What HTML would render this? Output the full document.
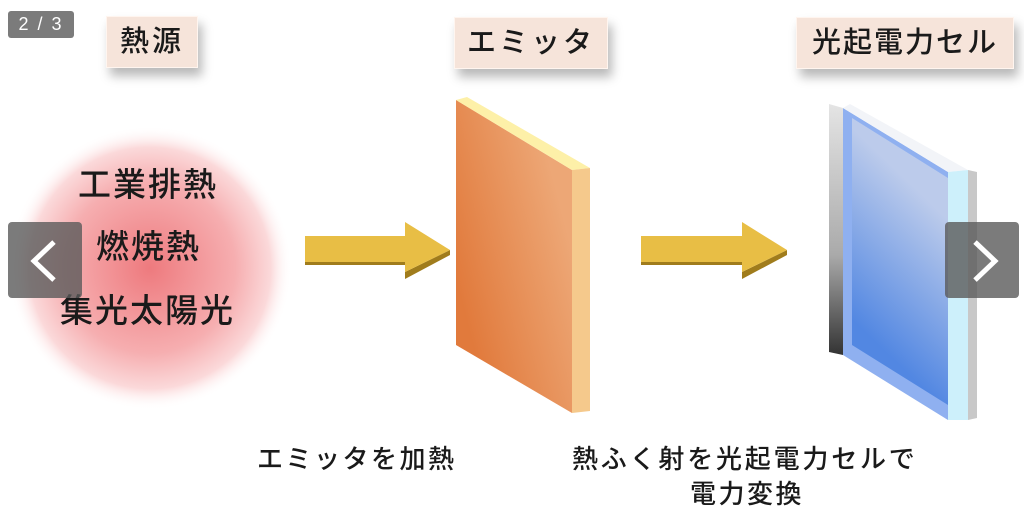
<!DOCTYPE html>
<html><head><meta charset="utf-8"><style>
html,body{margin:0;padding:0;background:#fff;}
body{width:1024px;height:514px;position:relative;overflow:hidden;font-family:"Liberation Sans","Noto Sans CJK JP",sans-serif;color:#1a1a1a;font-weight:500;}
.t{position:absolute;white-space:nowrap;}
.lbl{position:absolute;background:#f6e4da;box-shadow:4px 8px 10px rgba(0,0,0,0.28);border:1px solid #fff5ef;font-size:29px;line-height:50px;text-align:center;letter-spacing:3px;}
.nav{position:absolute;width:74px;height:76px;background:rgba(90,90,90,0.8);border-radius:4px;}
</style></head><body>
<svg width="1024" height="514" style="position:absolute;left:0;top:0">
<defs>
<radialGradient id="rg" cx="150" cy="268" r="142" gradientUnits="userSpaceOnUse">
<stop offset="0" stop-color="#ee7a7e"/><stop offset="0.6" stop-color="#f6aeb0"/><stop offset="0.85" stop-color="#fbd9da"/><stop offset="1" stop-color="#fff" stop-opacity="0"/>
</radialGradient>
<linearGradient id="og" x1="456" y1="280" x2="572" y2="250" gradientUnits="userSpaceOnUse">
<stop offset="0" stop-color="#e17a3c"/><stop offset="1" stop-color="#eda776"/></linearGradient>
<linearGradient id="bg" x1="852" y1="320" x2="948" y2="220" gradientUnits="userSpaceOnUse">
<stop offset="0" stop-color="#5287e2"/><stop offset="1" stop-color="#bccbeb"/></linearGradient>
<linearGradient id="gg" x1="0" y1="105" x2="0" y2="355" gradientUnits="userSpaceOnUse">
<stop offset="0" stop-color="#e4e4e4"/><stop offset="0.6" stop-color="#aaa"/><stop offset="1" stop-color="#333"/></linearGradient>
</defs>
<circle cx="150" cy="268" r="142" fill="url(#rg)"/>
<g>
<polygon points="305,252 405,252 405,272 450,250 450,255 405,279 405,265 305,265" fill="#a07c1c"/>
<polygon points="305,236 405,236 405,222 450,250 405,272 405,262 305,262" fill="#e8be45"/>
<polygon points="641,252 742,252 742,272 787,250 787,255 742,279 742,265 641,265" fill="#a07c1c"/>
<polygon points="641,236 742,236 742,222 787,250 742,272 742,262 641,262" fill="#e8be45"/>
</g>
<polygon points="456,100 572,170 572,413 456,345" fill="url(#og)"/>
<polygon points="456,100 467,97 590,168 572,170" fill="#fdf0a8"/>
<polygon points="572,170 590,168 590,411 572,413" fill="#f5c98c"/>
<polygon points="829,104 843,108 843,355 829,352" fill="url(#gg)"/>
<polygon points="843,108 948,172 948,420 843,355" fill="#8fb0f0"/>
<polygon points="852,118 948,178 948,405 852,345" fill="url(#bg)"/>
<polygon points="843,108 850,104 968,170 948,172" fill="#f2f4f8"/>
<polygon points="948,172 968,170 968,420 948,420" fill="#cdf0fb"/>
<polygon points="968,170 977,172 977,418 968,420" fill="#c8c8c8"/>
</svg>
<div class="t" style="left:8px;top:11px;width:66px;height:27px;background:#7b7b7b;border-radius:3px;color:#fff;font-size:18px;line-height:27px;text-align:center;letter-spacing:2px;font-weight:400;">2 / 3</div>
<div class="lbl" style="left:106px;top:16px;width:90px;">熱源</div>
<div class="lbl" style="left:454px;top:17px;width:152px;">エミッタ</div>
<div class="lbl" style="left:796px;top:17px;width:216px;letter-spacing:2px;">光起電力セル</div>
<div class="t" style="left:78px;top:158px;font-size:33px;letter-spacing:2px;">工業排熱</div>
<div class="t" style="left:96px;top:220px;font-size:33px;letter-spacing:2px;">燃焼熱</div>
<div class="t" style="left:60px;top:284px;font-size:33px;letter-spacing:2px;">集光太陽光</div>
<div class="nav" style="left:8px;top:222px;"><svg width="74" height="76"><polyline points="46,20 26,39 46,58" fill="none" stroke="#fff" stroke-width="5"/></svg></div>
<div class="nav" style="left:945px;top:222px;"><svg width="74" height="76"><polyline points="30,20 50,39 30,58" fill="none" stroke="#fff" stroke-width="5"/></svg></div>
<div class="t" style="left:257px;top:439px;font-size:26px;letter-spacing:2.5px;">エミッタを加熱</div>
<div class="t" style="left:572px;top:439px;font-size:26px;letter-spacing:2.8px;">熱ふく射を光起電力セルで</div>
<div class="t" style="left:690px;top:474px;font-size:26px;letter-spacing:2.5px;">電力変換</div>
</body></html>
